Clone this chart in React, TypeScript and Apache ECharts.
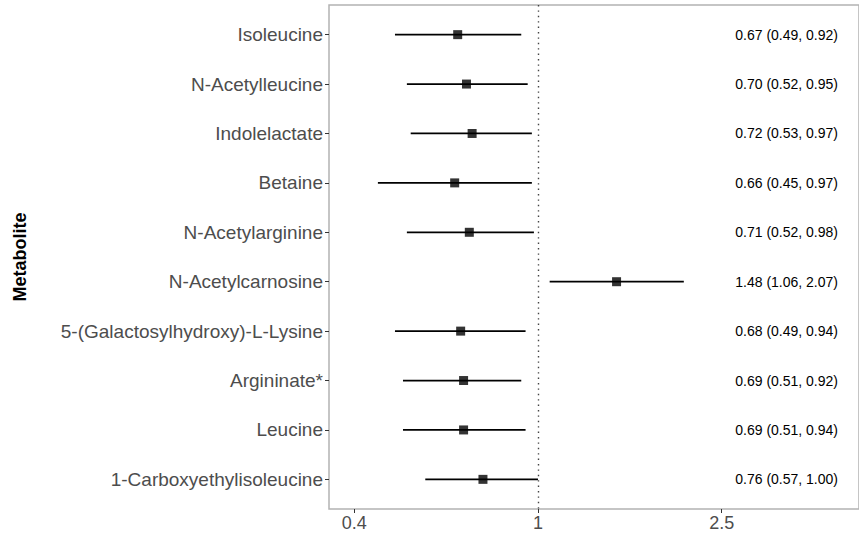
import React, { useEffect, useRef } from "react";
import * as echarts from "echarts";

const metabolites = [
  "Isoleucine",
  "N-Acetylleucine",
  "Indolelactate",
  "Betaine",
  "N-Acetylarginine",
  "N-Acetylcarnosine",
  "5-(Galactosylhydroxy)-L-Lysine",
  "Argininate*",
  "Leucine",
  "1-Carboxyethylisoleucine",
];
const oddsRatio = [0.67, 0.70, 0.72, 0.66, 0.71, 1.48, 0.68, 0.69, 0.69, 0.76];
const lowerCI = [0.49, 0.52, 0.53, 0.45, 0.52, 1.06, 0.49, 0.51, 0.51, 0.57];
const upperCI = [0.92, 0.95, 0.97, 0.97, 0.98, 2.07, 0.94, 0.92, 0.94, 1.00];
const xTicks = [0.4, 1, 2.5];
const xTickLabels = ["0.4", "1", "2.5"];
const refValue = 1;

const FONT = "'Liberation Sans', Arial, Helvetica, sans-serif";
const lg = (v: number) => Math.log10(v);

export default function App() {
  const ref = useRef<HTMLDivElement>(null);
  useEffect(() => {
    if (!ref.current) return;
    const chart = echarts.init(ref.current, undefined, { renderer: "svg" });
    const rowIdx = metabolites.map((_, i) => i);
    const labelText = metabolites.map(
      (_, i) => `${oddsRatio[i].toFixed(2)} (${lowerCI[i].toFixed(2)}, ${upperCI[i].toFixed(2)})`
    );
    const xMin = lg(0.3526);
    const xMax = lg(4.96);
    chart.setOption({
      animation: false,
      grid: {
        left: 329,
        right: -5,
        top: 5,
        bottom: 27,
        show: true,
        borderColor: "#b3b3b3",
        borderWidth: 1.5,
        backgroundColor: "transparent",
      },
      xAxis: {
        type: "value",
        min: xMin,
        max: xMax,
        splitLine: { show: false },
        axisLine: { show: false, onZero: false },
        axisTick: {
          show: true,
          length: 4,
          lineStyle: { color: "#333", width: 1 },
          customValues: xTicks.map(lg),
        },
        axisLabel: {
          customValues: xTicks.map(lg),
          formatter: (v: number) => {
            let best = 0;
            xTicks.forEach((t, i) => {
              if (Math.abs(lg(t) - v) < Math.abs(lg(xTicks[best]) - v)) best = i;
            });
            return xTickLabels[best];
          },
          color: "#4d4d4d",
          fontSize: 18,
          fontFamily: FONT,
          margin: 5,
        },
      },
      yAxis: [
        {
          type: "value",
          min: -0.6,
          max: metabolites.length - 1 + 0.6,
          inverse: true,
          splitLine: { show: false },
          axisLine: { show: false, onZero: false },
          axisTick: {
            show: true,
            length: 4,
            lineStyle: { color: "#333", width: 1 },
            customValues: rowIdx,
          },
          axisLabel: {
            customValues: rowIdx,
            formatter: (v: number) => metabolites[Math.round(v)] ?? "",
            color: "#4d4d4d",
            fontSize: 19,
            fontFamily: FONT,
            margin: 6,
          },
          name: "Metabolite",
          nameLocation: "middle",
          nameRotate: 90,
          nameGap: 300,
          nameTextStyle: { fontWeight: "bold", fontSize: 18, color: "#000", fontFamily: FONT },
        },
        {
          type: "value",
          position: "right",
          min: -0.6,
          max: metabolites.length - 1 + 0.6,
          inverse: true,
          splitLine: { show: false },
          axisLine: { show: false, onZero: false },
          axisTick: { show: false },
          axisLabel: {
            inside: true,
            customValues: rowIdx,
            formatter: (v: number) => labelText[Math.round(v)] ?? "",
            color: "#000",
            fontSize: 14,
            fontFamily: FONT,
            margin: 21,
          },
        },
      ],
      series: [
        {
          type: "custom",
          yAxisIndex: 0,
          data: metabolites.map((_, i) => [lg(lowerCI[i]), lg(upperCI[i]), i]),
          renderItem: (params: any, api: any) => {
            const a = api.coord([api.value(0), api.value(2)]);
            const b = api.coord([api.value(1), api.value(2)]);
            return {
              type: "line",
              shape: { x1: a[0], y1: a[1], x2: b[0], y2: b[1] },
              style: { stroke: "#000", lineWidth: 1.8 },
            };
          },
          encode: { x: [0, 1], y: 2 },
          z: 2,
        },
        {
          type: "scatter",
          yAxisIndex: 0,
          symbol: "rect",
          symbolSize: 9,
          itemStyle: { color: "#000" },
          data: metabolites.map((_, i) => [lg(oddsRatio[i]), i]),
          z: 3,
          markLine: {
            silent: true,
            symbol: "none",
            label: { show: false },
            lineStyle: { color: "#444", width: 1.4, type: [1.4, 4] },
            data: [{ xAxis: lg(refValue) }],
          },
        },
      ],
    });
    return () => chart.dispose();
  }, []);
  return (
    <div
      ref={ref}
      style={{ position: "fixed", left: 0, top: 0, width: 859, height: 536, background: "#fff" }}
    />
  );
}
